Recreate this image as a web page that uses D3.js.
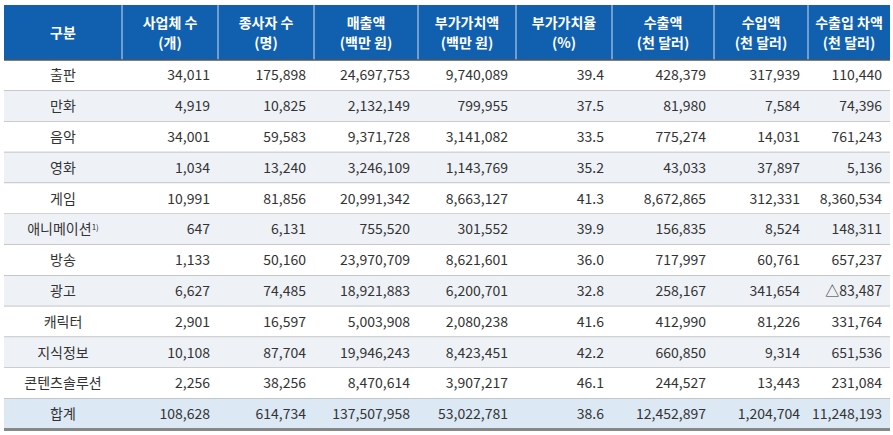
<!DOCTYPE html>
<html><head><meta charset="utf-8">
<script src="https://cdn.jsdelivr.net/npm/d3@7"></script>
<style>body{margin:0;background:#fff;}</style>
</head><body>
<svg id="canvas" width="893" height="435"></svg>
<script>
const headers = [["구분"], ["사업체 수", "(개)"], ["종사자 수", "(명)"], ["매출액", "(백만 원)"], ["부가가치액", "(백만 원)"], ["부가가치율", "(%)"], ["수출액", "(천 달러)"], ["수입액", "(천 달러)"], ["수출입 차액", "(천 달러)"]];
const categories = ["출판", "만화", "음악", "영화", "게임", "애니메이션", "방송", "광고", "캐릭터", "지식정보", "콘텐츠솔루션", "합계"];
const businesses = ["34,011", "4,919", "34,001", "1,034", "10,991", "647", "1,133", "6,627", "2,901", "10,108", "2,256", "108,628"];
const employees = ["175,898", "10,825", "59,583", "13,240", "81,856", "6,131", "50,160", "74,485", "16,597", "87,704", "38,256", "614,734"];
const sales = ["24,697,753", "2,132,149", "9,371,728", "3,246,109", "20,991,342", "755,520", "23,970,709", "18,921,883", "5,003,908", "19,946,243", "8,470,614", "137,507,958"];
const valueAdded = ["9,740,089", "799,955", "3,141,082", "1,143,769", "8,663,127", "301,552", "8,621,601", "6,200,701", "2,080,238", "8,423,451", "3,907,217", "53,022,781"];
const vaRate = ["39.4", "37.5", "33.5", "35.2", "41.3", "39.9", "36.0", "32.8", "41.6", "42.2", "46.1", "38.6"];
const exports_ = ["428,379", "81,980", "775,274", "43,033", "8,672,865", "156,835", "717,997", "258,167", "412,990", "660,850", "244,527", "12,452,897"];
const imports_ = ["317,939", "7,584", "14,031", "37,897", "312,331", "8,524", "60,761", "341,654", "81,226", "9,314", "13,443", "1,204,704"];
const balance = ["110,440", "74,396", "761,243", "5,136", "8,360,534", "148,311", "657,237", "△83,487", "331,764", "651,536", "231,084", "11,248,193"];

const columns = [businesses, employees, sales, valueAdded, vaRate, exports_, imports_, balance];
const colEdges = [4, 122, 218, 314, 418, 516, 612, 714, 808, 890];

const svg = d3.select("#canvas");
const font = "'Noto Sans CJK KR', 'Noto Sans', sans-serif";
const topY = 5, headH = 55, rowH = 30.8;
const y = d3.scaleBand().domain(d3.range(categories.length)).range([topY + headH, topY + headH + rowH * categories.length]);

// header
svg.append("rect").attr("x", colEdges[0]).attr("y", topY).attr("width", colEdges[9] - colEdges[0]).attr("height", headH).attr("fill", "#1160b0");
colEdges.slice(1, 9).forEach(x => svg.append("line").attr("x1", x).attr("x2", x).attr("y1", topY).attr("y2", topY + headH).attr("stroke", "#d0dcec").attr("stroke-width", 1));
headers.forEach((h, i) => {
  const cx = (colEdges[i] + colEdges[i + 1]) / 2;
  const t = svg.append("text").attr("x", cx).attr("text-anchor", "middle").attr("fill", "#fff")
    .attr("font-family", font).attr("font-size", 14).attr("font-weight", "bold");
  if (h.length === 1) t.attr("y", topY + headH / 2 + 5).text(h[0]);
  else {
    t.append("tspan").attr("x", cx).attr("y", topY + 23).text(h[0]);
    t.append("tspan").attr("x", cx).attr("y", topY + 43).text(h[1]);
  }
});

// rows
const rows = svg.selectAll("g.row").data(categories).enter().append("g").attr("class", "row")
  .attr("transform", (d, i) => `translate(0,${y(i)})`);
rows.append("rect").attr("x", colEdges[0]).attr("width", colEdges[9] - colEdges[0]).attr("height", y.bandwidth())
  .attr("fill", (d, i) => i === categories.length - 1 ? "#dce9f5" : (i % 2 ? "#eef2f7" : "#fff"));
rows.append("line").attr("x1", colEdges[0]).attr("x2", colEdges[9]).attr("y1", y.bandwidth()).attr("y2", y.bandwidth())
  .attr("stroke", (d, i) => i === categories.length - 1 ? "#888" : "#a8a8a8").attr("stroke-width", (d, i) => i === categories.length - 1 ? 3 : 1.2);
const label = rows.append("text").attr("x", (colEdges[0] + colEdges[1]) / 2).attr("y", y.bandwidth() / 2 + 5)
  .attr("text-anchor", "middle").attr("fill", "#333").attr("font-family", font).attr("font-size", 14);
label.append("tspan").text(d => d);
label.filter(d => d === "애니메이션").append("tspan").attr("font-size", 8).attr("dy", -4).text("1)");
columns.forEach((col, c) => {
  rows.append("text").attr("x", colEdges[c + 2] - 8).attr("y", y.bandwidth() / 2 + 5)
    .attr("text-anchor", "end").attr("fill", "#333").attr("font-family", font).attr("font-size", 14)
    .text((d, i) => col[i]);
});
svg.append("line").attr("x1", colEdges[0]).attr("x2", colEdges[9]).attr("y1", topY + headH).attr("y2", topY + headH).attr("stroke", "#555").attr("stroke-width", 1.5);
</script>
</body></html>
